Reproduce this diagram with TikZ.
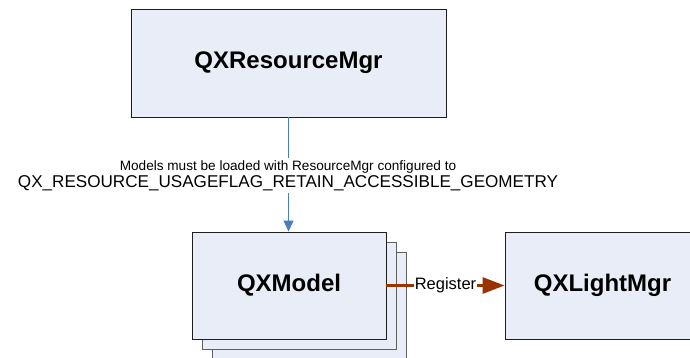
\documentclass[tikz,border=0pt]{standalone}
\usepackage{fontspec}
\setmainfont{Liberation Sans}
\usetikzlibrary{arrows.meta}
\definecolor{boxfill}{RGB}{232,237,247}
\definecolor{edgeblue}{RGB}{74,126,187}
\definecolor{regbrown}{RGB}{153,51,0}
\definecolor{boxline}{RGB}{30,30,30}
\definecolor{backline}{RGB}{95,95,95}
\begin{document}
\begin{tikzpicture}[x=1pt,y=1pt,
  boxbase/.style={fill=boxfill, inner sep=0pt, line width=0.9pt,
    font=\fontsize{24}{28}\selectfont\bfseries},
  mgrbox/.style={boxbase, draw=boxline, minimum width=315pt, minimum height=108pt},
  unitbox/.style={boxbase, draw=boxline, minimum width=194pt, minimum height=107pt},
  stackbox/.style={boxbase, draw=backline, minimum width=194pt, minimum height=107pt},
  loadedge/.style={draw=edgeblue, line width=1pt,
    -{Triangle[length=11pt,width=10pt]}},
  regedge/.style={draw=regbrown, line width=3pt,
    -{Triangle[length=22pt,width=16pt]}},
  condlabel/.style={fill=white, align=center, inner sep=2pt},
  reglabel/.style={fill=white, inner sep=1pt, font=\fontsize{16.5}{20}\selectfont}
]
\clip (0,0) rectangle (690,357);
\fill[white] (0,0) rectangle (690,357);

% resource manager at the top
\node[mgrbox] (res) at (288.5,294) {QXResourceMgr};

% stacked model boxes, back to front
\node[stackbox] (model3) at (309,51.5) {};
\node[stackbox] (model2) at (299,61.5) {};
\node[unitbox] (model) at (289,71.5) {QXModel};

% light manager, running off the right edge
\node[unitbox, minimum width=195pt] (light) at (602.5,71.5) {QXLightMgr};

% loading requirement
\draw[loadedge] (res.south) -- (res.south |- model.north);
\node[condlabel] (cond) at (288,181.5)
  {{\fontsize{13.6}{16}\selectfont Models must be loaded with ResourceMgr configured to}\\[1pt]
   {\fontsize{17.1}{20}\selectfont QX\_RESOURCE\_USAGEFLAG\_RETAIN\_ACCESSIBLE\_GEOMETRY}};

% registration with the light manager
\draw[regedge] (model.east) -- (light.west)
  node[reglabel, midway] (reg) {Register};
\end{tikzpicture}
\end{document}
